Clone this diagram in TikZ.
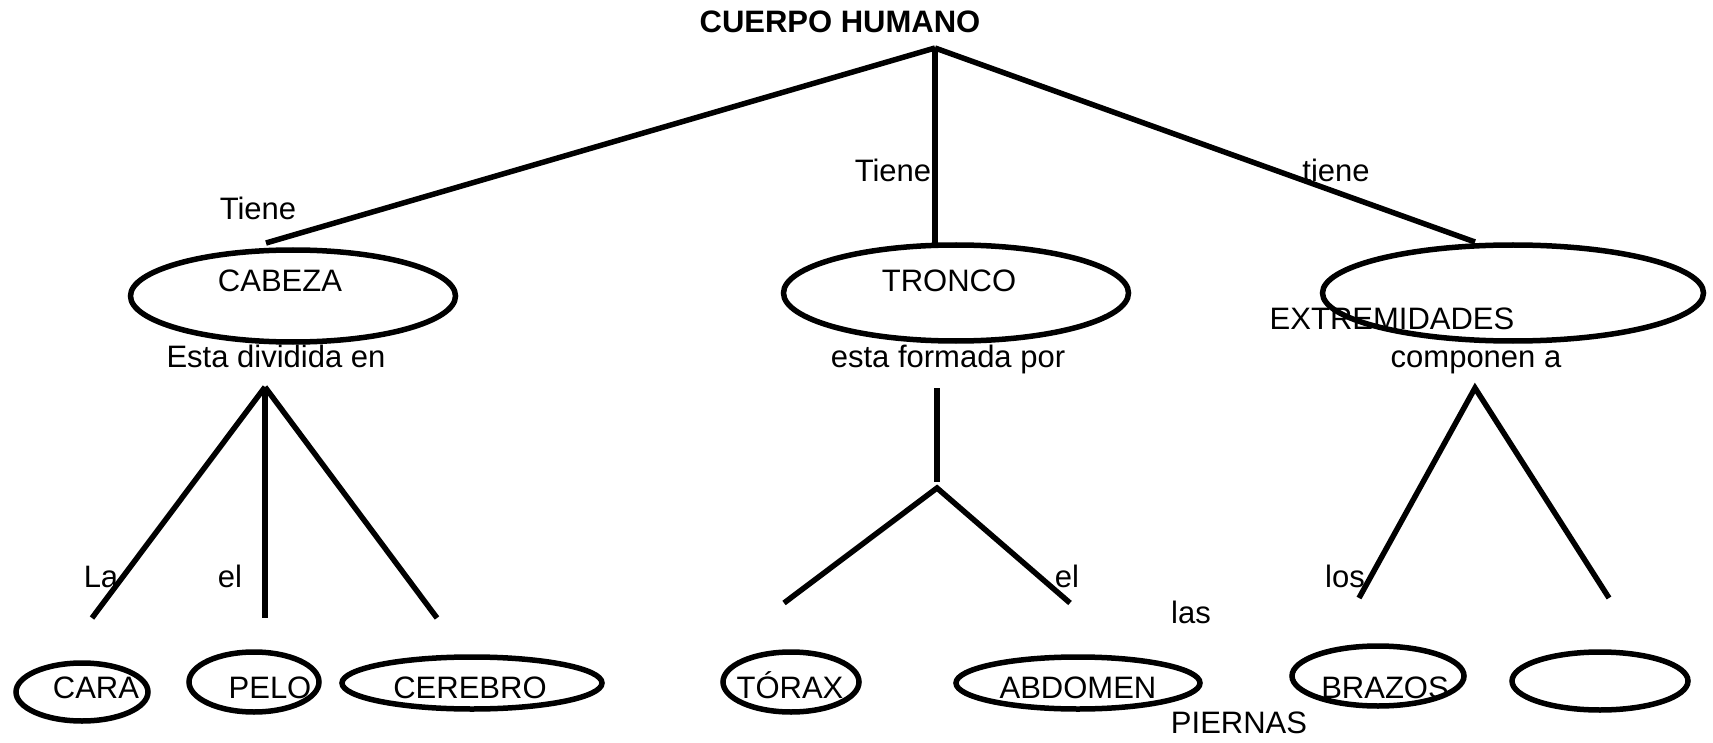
\documentclass[tikz,border=0pt]{standalone}
\usepackage{fontspec}
\setmainfont{Liberation Sans}
\usetikzlibrary{shapes.geometric}

\tikzset{
  elipse/.style={draw, ellipse, line width=5.5pt, inner sep=0pt},
  txt/.style={anchor=base, inner sep=0pt, font=\fontsize{31}{37}\selectfont},
  rama/.style={line width=5.5pt},
}

\begin{document}
\begin{tikzpicture}[x=1pt,y=-1pt]
\useasboundingbox (0,0) rectangle (1713,743);

% titulo y primer nivel
\node[txt, font=\bfseries\fontsize{31}{37}\selectfont] (titulo) at (840,33) {CUERPO HUMANO};
\coordinate (raiz) at (935,48);
\coordinate (aCabeza) at (266,243);
\coordinate (aTronco) at (935,243);
\coordinate (aExtrem) at (1475,242);
\draw[rama] (raiz) -- (aCabeza);
\draw[rama] (raiz) -- (aTronco);
\draw[rama] (raiz) -- (aExtrem);
\node[txt] (tiene1) at (258,220) {Tiene};
\node[txt] (tiene2) at (893,182) {Tiene};
\node[txt] (tiene3) at (1336,182) {tiene};

\node[elipse, minimum width=325pt, minimum height=92pt] (cabeza) at (293,296) {};
\node[elipse, minimum width=345pt, minimum height=96pt] (tronco) at (956,293) {};
\node[elipse, minimum width=381pt, minimum height=96pt] (extrem) at (1513,293) {};
\node[txt] (cabezaTxt) at (280,292) {CABEZA};
\node[txt] (troncoTxt) at (949,292) {TRONCO};
\node[txt] (extremTxt) at (1392,330) {EXTREMIDADES};
\node[txt] (divida) at (276,367) {Esta dividida en};
\node[txt] (formada) at (948,367) {esta formada por};
\node[txt] (componen) at (1476,367) {componen a};

% cabeza
\coordinate (fCabeza) at (265,387);
\coordinate (bCara) at (92,618);
\coordinate (bPelo) at (265,618);
\coordinate (bCerebro) at (437,618);
\draw[rama] (fCabeza) -- (bCara);
\draw[rama] (fCabeza) -- (bPelo);
\draw[rama] (fCabeza) -- (bCerebro);
\node[txt] (la) at (101,587) {La};
\node[txt] (el1) at (230,587) {el};

% tronco
\coordinate (fTronco) at (937,388);
\coordinate (fTronco2) at (937,482);
\coordinate (fTronco3) at (937,488);
\coordinate (bTorax) at (784,603);
\coordinate (bAbdomen) at (1070,603);
\draw[rama] (fTronco) -- (fTronco2);
\draw[rama] (bTorax) -- (fTronco3) -- (bAbdomen);
\node[txt] (el2) at (1067,587) {el};
\node[txt] (las) at (1191,623) {las};

% extremidades
\coordinate (fExtrem) at (1475,388);
\coordinate (bBrazos) at (1359,598);
\coordinate (bPiernas) at (1609,598);
\draw[rama] (bBrazos) -- (fExtrem) -- (bPiernas);
\node[txt] (los) at (1345,587) {los};

% ultimo nivel
\node[elipse, minimum width=132pt, minimum height=58pt] (cara) at (82,692) {};
\node[elipse, minimum width=130pt, minimum height=60pt] (pelo) at (254,682) {};
\node[elipse, minimum width=260pt, minimum height=52pt] (cerebro) at (472,683) {};
\node[elipse, minimum width=136pt, minimum height=60pt] (torax) at (791,682) {};
\node[elipse, minimum width=244pt, minimum height=52pt] (abdomen) at (1078,683) {};
\node[elipse, minimum width=172pt, minimum height=60pt] (brazos) at (1378,676) {};
\node[elipse, minimum width=176pt, minimum height=58pt] (vacio) at (1600,681) {};
\node[txt] (caraTxt) at (96,698) {CARA};
\node[txt] (peloTxt) at (270,698) {PELO};
\node[txt] (cerebroTxt) at (470,698) {CEREBRO};
\node[txt] (toraxTxt) at (790,698) {TÓRAX};
\node[txt] (abdomenTxt) at (1078,698) {ABDOMEN};
\node[txt] (brazosTxt) at (1385,698) {BRAZOS};
\node[txt] (piernasTxt) at (1239,733) {PIERNAS};
\end{tikzpicture}
\end{document}
